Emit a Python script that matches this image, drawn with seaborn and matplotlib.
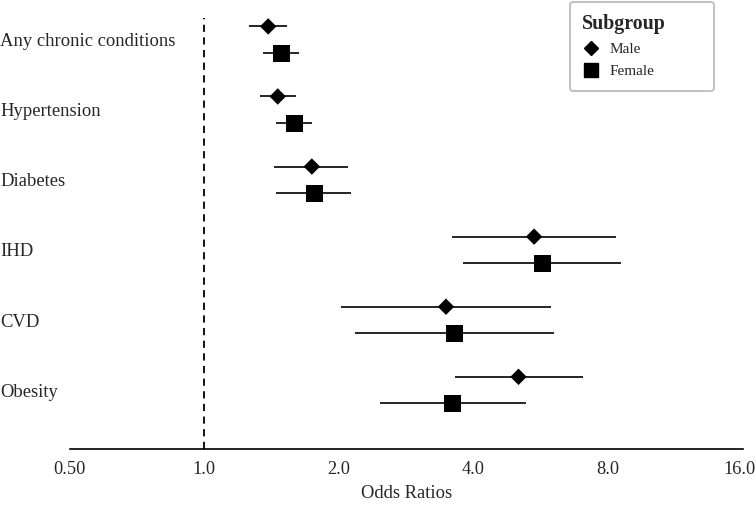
import matplotlib
matplotlib.use("Agg")
import matplotlib.pyplot as plt
import matplotlib.transforms as mtransforms
import seaborn as sns
import numpy as np
import pandas as pd
from matplotlib.lines import Line2D

# odds ratios with 95% CI
conditions = ["Any chronic conditions", "Hypertension", "Diabetes", "IHD", "CVD", "Obesity"]
male_or = [1.39, 1.46, 1.74, 5.46, 3.47, 5.04]
male_lo = [1.26, 1.33, 1.43, 3.58, 2.02, 3.64]
male_hi = [1.53, 1.60, 2.10, 8.31, 5.96, 7.02]
female_or = [1.49, 1.59, 1.76, 5.69, 3.63, 3.59]
female_lo = [1.35, 1.45, 1.45, 3.78, 2.17, 2.47]
female_hi = [1.63, 1.74, 2.13, 8.54, 6.05, 5.23]
x_ticks = [0.5, 1, 2, 4, 8, 16]
x_tick_labels = ["0.50", "1.0", "2.0", "4.0", "8.0", "16.0"]

rows = []
for i, c in enumerate(conditions):
    rows.append(dict(cond=c, pos=i - 0.19, Subgroup="Male", OR=male_or[i], lo=male_lo[i], hi=male_hi[i]))
    rows.append(dict(cond=c, pos=i + 0.19, Subgroup="Female", OR=female_or[i], lo=female_lo[i], hi=female_hi[i]))
df = pd.DataFrame(rows)

sns.set_style("white")
plt.rcParams["font.family"] = ["Liberation Serif", "DejaVu Serif"]

fig = plt.figure(figsize=(7.56, 5.05), dpi=100)
ax = fig.add_axes([69.5 / 756, 1 - 449 / 505, (743 - 69.5) / 756, (449 - 18) / 505])

# confidence intervals
ax.hlines(df["pos"], df["lo"], df["hi"], color="black", linewidth=1.2, zorder=2)

sns.scatterplot(
    data=df, x="OR", y="pos", hue="Subgroup", style="Subgroup", size="Subgroup",
    palette={"Male": "black", "Female": "black"},
    markers={"Male": "D", "Female": "s"},
    sizes={"Male": 70, "Female": 150},
    edgecolor="black", linewidth=0, legend=False, zorder=3, ax=ax,
)

ax.axvline(1, color="black", linestyle="--", linewidth=1.3, dashes=(4, 3), zorder=1)

ax.set_xscale("log", base=2)
ax.set_xlim(0.5, 16)
ax.set_xticks(x_ticks)
ax.set_xticklabels(x_tick_labels)
ax.minorticks_off()
ax.set_ylim(len(conditions) - 1 + 0.84, -0.31)
ax.set_yticks(range(len(conditions)))
ax.set_yticklabels(conditions)
for lbl in ax.get_yticklabels():
    lbl.set_horizontalalignment("left")
ax.tick_params(axis="y", length=0, pad=69.5 * 72 / 100, labelsize=13.4)
ax.tick_params(axis="x", length=6, width=1, direction="out", labelsize=13.2, pad=3, color="black")

# keep the last tick label inside the canvas
last = ax.get_xticklabels()[-1]
last.set_transform(last.get_transform() + mtransforms.ScaledTranslation(-4 / 100, 0, fig.dpi_scale_trans))

ax.set_xlabel("Odds Ratios", fontsize=13.4, labelpad=5)
ax.set_ylabel("")

for s in ["top", "right", "left"]:
    ax.spines[s].set_visible(False)
ax.spines["bottom"].set_color("black")
ax.spines["bottom"].set_linewidth(1.2)

handles = [
    Line2D([], [], marker="D", color="black", linestyle="none", markersize=7),
    Line2D([], [], marker="s", color="black", linestyle="none", markersize=10),
]
leg = fig.legend(
    handles, ["Male", "Female"], title="Subgroup",
    loc="upper left", bbox_to_anchor=(570 / 756, 1 - 89 / 505, 144 / 756, 87 / 505),
    mode="expand", borderaxespad=0,
    fontsize=11, title_fontproperties={"weight": "bold", "size": 14.3},
    frameon=True, fancybox=True, alignment="left",
    handletextpad=0.6, borderpad=0.8, labelspacing=0.55, handlelength=1.2,
)
leg.get_frame().set_edgecolor("#b4b4b4")
leg.get_frame().set_linewidth(1.5)

fig.savefig("out.png", dpi=100)
